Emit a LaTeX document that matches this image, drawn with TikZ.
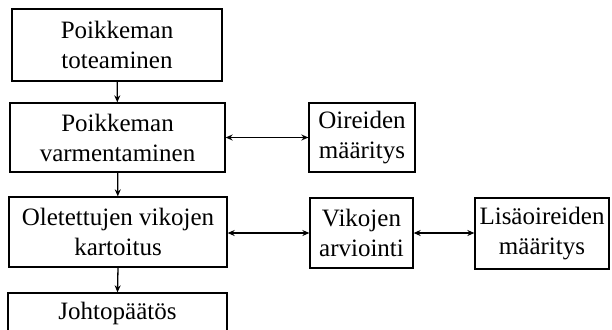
\documentclass[tikz,border=0pt]{standalone}
\usepackage{fontspec}
\setmainfont{Liberation Serif}
\usepackage{tikz}
\usetikzlibrary{arrows.meta}

\begin{document}
\begin{tikzpicture}[x=1pt, y=-1pt,
    box/.style={draw, line width=1.3pt, inner sep=0pt, align=center,
      font=\fontsize{25}{30}\selectfont},
    conn/.style={line width=1.3pt, -{Stealth[length=7pt,width=6pt]}},
    bconn/.style={line width=1.3pt, {Stealth[length=7pt,width=6pt]}-{Stealth[length=7pt,width=6pt]}}]
			\useasboundingbox (0,0) rectangle (612,329);
			\clip (0,0) rectangle (612,329);
			\node[box, minimum width=210pt, minimum height=72pt] (tot) at (117,45) {Poikkeman\\toteaminen};
			\node[box, minimum width=215pt, minimum height=69pt] (var) at (117.5,137.5) {Poikkeman\\varmentaminen};
			\node[box, minimum width=218pt, minimum height=70pt] (kar) at (118,232) {Oletettujen vikojen\\kartoitus};
			\node[box, minimum width=219pt, minimum height=40pt] (joh) at (117.5,313) {Johtopäätös};
			\node[box, minimum width=106pt, minimum height=69pt] (oir) at (362,137.5) {Oireiden\\määritys};
			\node[box, minimum width=103pt, minimum height=70pt] (arv) at (361.5,233) {Vikojen\\arviointi};
			\node[box, minimum width=134pt, minimum height=71pt] (lis) at (542,233.5) {Lisäoireiden\\määritys};
			\draw[conn] (tot) -- (var);
			\draw[conn] (var) -- (kar);
			\draw[conn] (kar.south) -- (joh.north);
			\draw[bconn] (var) -- (oir);
			\draw[bconn] (kar.east |- arv.west) -- (arv.west);
			\draw[bconn] (arv) -- (lis.west |- arv.east);
		\end{tikzpicture}
\end{document}
